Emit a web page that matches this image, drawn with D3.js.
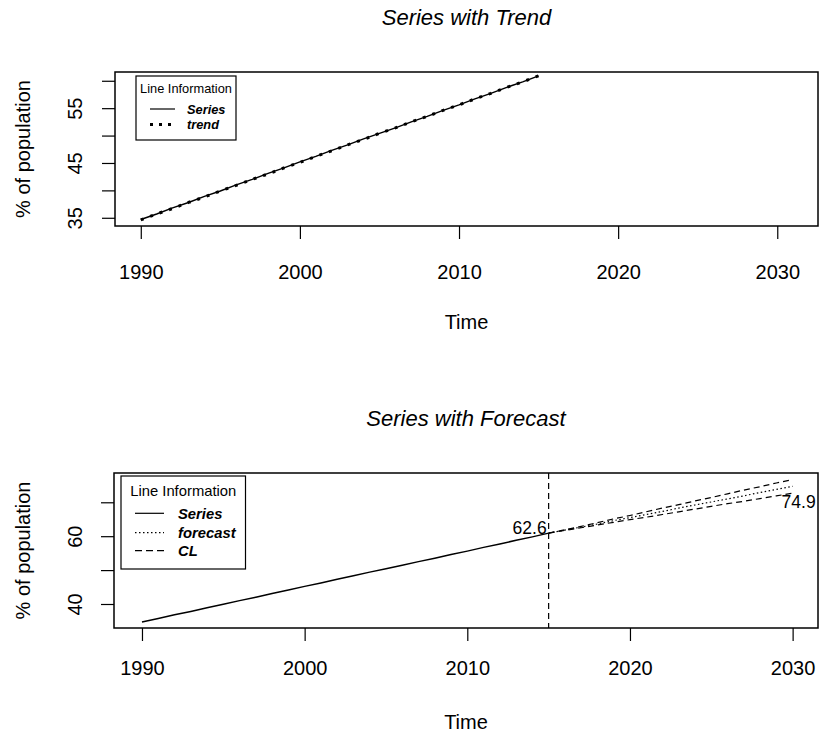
<!DOCTYPE html>
<html>
<head>
<meta charset="utf-8">
<script src="https://cdn.jsdelivr.net/npm/d3@7"></script>
<style>
  body { margin: 0; background: #fff; }
  svg { font-family: "Liberation Sans", Arial, sans-serif; }
</style>
</head>
<body>
<svg id="chart" width="820" height="736"></svg>
<script>
// --- data ---
const years = [1990,1991,1992,1993,1994,1995,1996,1997,1998,1999,2000,2001,2002,
  2003,2004,2005,2006,2007,2008,2009,2010,2011,2012,2013,2014,2015];
const series = [34.7,35.7,36.8,37.8,38.9,39.9,41.0,42.0,43.1,44.1,45.2,46.2,47.3,
  48.3,49.4,50.4,51.4,52.5,53.5,54.6,55.6,56.7,57.7,58.8,59.8,60.9];
const trend = [34.6,35.7,36.7,37.8,38.8,39.9,40.9,42.0,43.0,44.1,45.1,46.2,47.2,
  48.3,49.3,50.4,51.4,52.5,53.5,54.6,55.6,56.7,57.7,58.8,59.8,60.9];

const fcYears = [2015,2016,2017,2018,2019,2020,2021,2022,2023,2024,2025,2026,2027,2028,2029,2030];
const forecast = [60.9,61.8,62.7,63.6,64.6,65.5,66.4,67.3,68.3,69.2,70.1,71.0,71.9,72.9,73.8,74.7];
const upperCL = [60.9,61.9,62.9,64.0,65.1,66.1,67.2,68.3,69.3,70.4,71.4,72.5,73.6,74.6,75.7,76.7];
const lowerCL = [60.9,61.7,62.5,63.3,64.1,64.9,65.6,66.4,67.2,68.0,68.8,69.6,70.3,71.1,71.9,72.7];

const splitYear = 2015;
const labels = [{year: 2015, value: 62.6, text: "62.6"}, {year: 2030, value: 74.9, text: "74.9"}];

const xTicks = [1990, 2000, 2010, 2020, 2030];
const topYTicks = [35, 40, 45, 50, 55, 60];
const topYLabels = [35, 45, 55];
const botYTicks = [40, 50, 60, 70];
const botYLabels = [40, 60];

const svg = d3.select("#chart");
const tickFont = 20;

function panel(cfg) {
  const { x, y, box, title } = cfg;
  const g = svg.append("g");

  // title
  g.append("text").attr("x", (box.left + box.right) / 2).attr("y", cfg.titleY)
    .attr("text-anchor", "middle").attr("font-size", 22).attr("font-style", "italic").text(title);

  // x axis
  const xa = g.append("g").attr("transform", `translate(0,${box.bottom})`)
    .call(d3.axisBottom(x).tickValues(xTicks).tickSize(13).tickFormat(d3.format("d")));
  xa.select(".domain").attr("stroke", "none");
  xa.selectAll(".tick line").attr("stroke", "#000").attr("stroke-width", 1.2);
  xa.selectAll(".tick text").attr("font-size", tickFont).attr("font-family", null)
    .attr("y", cfg.xLabelY - box.bottom).attr("dy", null);

  // y axis
  const ya = g.append("g").attr("transform", `translate(${box.left},0)`)
    .call(d3.axisLeft(y).tickValues(cfg.yTicks).tickSize(13)
      .tickFormat(d => cfg.yLabels.includes(d) ? d : ""));
  ya.select(".domain").attr("stroke", "none");
  ya.selectAll(".tick line").attr("stroke", "#000").attr("stroke-width", 1.2);
  ya.selectAll(".tick text").attr("font-size", tickFont).attr("font-family", null)
    .attr("transform", `rotate(-90)`).attr("x", 0).attr("y", 82 - box.left).attr("dy", null)
    .attr("text-anchor", "middle");

  // box
  g.append("rect").attr("x", box.left).attr("y", box.top)
    .attr("width", box.right - box.left).attr("height", box.bottom - box.top)
    .attr("fill", "none").attr("stroke", "#000").attr("stroke-width", 1.5);

  // axis titles
  g.append("text").attr("x", (box.left + box.right) / 2).attr("y", cfg.timeY)
    .attr("text-anchor", "middle").attr("font-size", tickFont).text("Time");
  g.append("text").attr("transform", `translate(30,${(box.top + box.bottom) / 2}) rotate(-90)`)
    .attr("text-anchor", "middle").attr("font-size", tickFont).text("% of population");
  return g;
}

function legend(g, cfg) {
  const lg = g.append("g");
  lg.append("rect").attr("x", cfg.x).attr("y", cfg.y).attr("width", cfg.w).attr("height", cfg.h)
    .attr("fill", "#fff").attr("stroke", "#000").attr("stroke-width", 1.2);
  lg.append("text").attr("x", cfg.x + cfg.w / 2).attr("y", cfg.titleY).attr("text-anchor", "middle")
    .attr("font-size", cfg.fs).text("Line Information");
  cfg.items.forEach(it => {
    lg.append("line").attr("x1", cfg.lx1).attr("x2", cfg.lx2).attr("y1", it.y).attr("y2", it.y)
      .attr("stroke", "#000").attr("stroke-width", it.sw).attr("stroke-dasharray", it.dash);
    lg.append("text").attr("x", cfg.tx).attr("y", it.y + cfg.fs * 0.36).attr("font-size", cfg.fs)
      .attr("font-weight", "bold").attr("font-style", "italic").text(it.label);
  });
}

// ---------- top panel ----------
const topBox = { left: 115, right: 818, top: 72, bottom: 226 };
const x1 = d3.scaleLinear().domain([1988.38, 2032.56]).range([topBox.left, topBox.right]);
const y1 = d3.scaleLinear().domain([33.5, 61.6]).range([topBox.bottom, topBox.top]);
const g1 = panel({ x: x1, y: y1, box: topBox, title: "Series with Trend", titleY: 25,
  xLabelY: 279, timeY: 329, yTicks: topYTicks, yLabels: topYLabels });

const lineTop = d3.line().x(d => x1(d[0])).y(d => y1(d[1]));
g1.append("path").datum(years.map((yr, i) => [yr, series[i]]))
  .attr("fill", "none").attr("stroke", "#000").attr("stroke-width", 1.5).attr("d", lineTop);
g1.append("path").datum(years.map((yr, i) => [yr, trend[i]]))
  .attr("fill", "none").attr("stroke", "#000").attr("stroke-width", 3)
  .attr("stroke-dasharray", "3,7").attr("d", lineTop);

legend(g1, { x: 136, y: 76, w: 100, h: 64, titleY: 93, fs: 12.8, lx1: 150, lx2: 175, tx: 187,
  items: [{ label: "Series", y: 109, sw: 1.2, dash: null },
          { label: "trend", y: 124.5, sw: 3, dash: "3,6" }] });

// ---------- bottom panel ----------
const botBox = { left: 114, right: 818, top: 473, bottom: 628 };
const x2 = d3.scaleLinear().domain([1988.28, 2031.56]).range([botBox.left, botBox.right]);
const y2 = d3.scaleLinear().domain([32.92, 78.64]).range([botBox.bottom, botBox.top]);
const g2 = panel({ x: x2, y: y2, box: botBox, title: "Series with Forecast", titleY: 426,
  xLabelY: 675, timeY: 729, yTicks: botYTicks, yLabels: botYLabels });

const lineBot = d3.line().x(d => x2(d[0])).y(d => y2(d[1]));
g2.append("path").datum(years.map((yr, i) => [yr, series[i]]))
  .attr("fill", "none").attr("stroke", "#000").attr("stroke-width", 1.5).attr("d", lineBot);
g2.append("path").datum(fcYears.map((yr, i) => [yr, forecast[i]]))
  .attr("fill", "none").attr("stroke", "#000").attr("stroke-width", 1.2)
  .attr("stroke-dasharray", "1.5,2.5").attr("d", lineBot);
[upperCL, lowerCL].forEach(arr => {
  g2.append("path").datum(fcYears.map((yr, i) => [yr, arr[i]]))
    .attr("fill", "none").attr("stroke", "#000").attr("stroke-width", 1.2)
    .attr("stroke-dasharray", "6,4").attr("d", lineBot);
});

// vertical split line
g2.append("line").attr("x1", x2(splitYear)).attr("x2", x2(splitYear))
  .attr("y1", botBox.top).attr("y2", botBox.bottom)
  .attr("stroke", "#000").attr("stroke-width", 1.2).attr("stroke-dasharray", "6,4");

// value labels
g2.append("text").attr("x", x2(labels[0].year) - 2).attr("y", y2(labels[0].value) + 6.5)
  .attr("text-anchor", "end").attr("font-size", 17.5).text(labels[0].text);
g2.append("text").attr("x", x2(labels[1].year) + 6).attr("y", y2(labels[1].value) + 22.5)
  .attr("text-anchor", "middle").attr("font-size", 17.5).text(labels[1].text);

legend(g2, { x: 121, y: 476, w: 124.5, h: 93, titleY: 495.5, fs: 14.8, lx1: 135, lx2: 164, tx: 178,
  items: [{ label: "Series", y: 513.3, sw: 1.2, dash: null },
          { label: "forecast", y: 532.7, sw: 1.2, dash: "1.5,2.5" },
          { label: "CL", y: 550.7, sw: 1.2, dash: "7,4" }] });
</script>
</body>
</html>
